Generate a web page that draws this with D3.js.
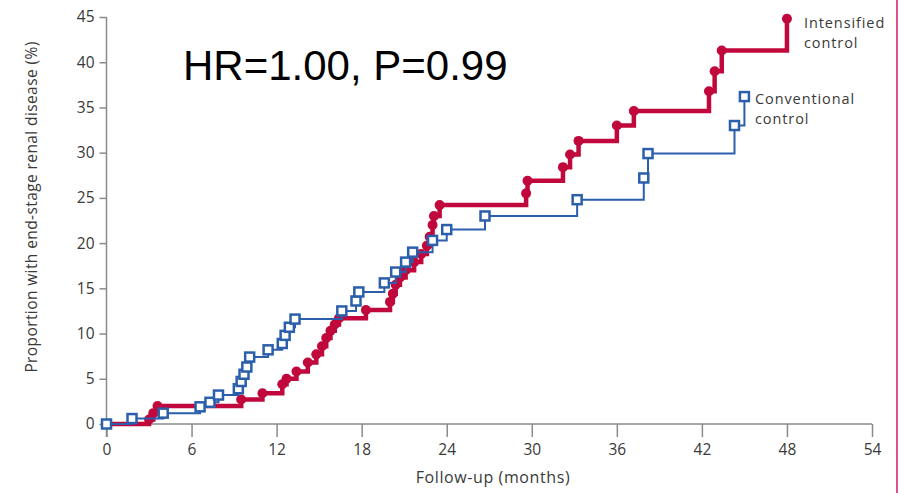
<!DOCTYPE html>
<html>
<head>
<meta charset="utf-8">
<script src="https://cdn.jsdelivr.net/npm/d3@7"></script>
<style>
  body { margin: 0; background: #fff; }
  svg { display: block; }
</style>
</head>
<body>
<div id="app"></div>
<script>
// data: [month, percent]
const intensifiedMonths = [0, 3.0, 3.3, 3.6, 9.5, 11.0, 12.4, 12.7, 13.4, 14.2, 14.8, 15.2, 15.5, 15.8, 16.1, 16.4, 18.3,
  20.0, 20.2, 20.4, 20.7, 21.1, 21.7, 22.2, 22.6, 22.8, 23.0, 23.1, 23.5, 29.6, 29.7, 32.2, 32.7, 33.3, 36.0, 37.2,
  42.5, 42.9, 43.4, 48.0];
const intensifiedValues = [0, 0.5, 1.2, 2.0, 2.7, 3.4, 4.4, 5.0, 5.8, 6.8, 7.7, 8.6, 9.5, 10.3, 11.0, 11.7, 12.6,
  13.5, 14.4, 15.4, 16.2, 17.0, 17.9, 18.8, 19.7, 20.7, 22.0, 23.0, 24.2, 25.5, 26.9, 28.4, 29.8, 31.3, 33.0, 34.6,
  36.8, 39.0, 41.3, 44.8];

const conventionalMonths = [0, 1.8, 4.0, 6.6, 7.3, 7.9, 9.3, 9.5, 9.7, 9.9, 10.1, 11.4, 12.4, 12.6, 12.9, 13.3, 16.6,
  17.6, 17.8, 19.6, 20.4, 21.1, 21.6, 23.0, 24.0, 26.7, 33.2, 37.9, 38.2, 44.3, 45.0];
const conventionalValues = [0, 0.6, 1.2, 1.9, 2.4, 3.2, 3.9, 4.7, 5.5, 6.3, 7.4, 8.2, 8.9, 9.8, 10.7, 11.6, 12.5,
  13.6, 14.6, 15.6, 16.8, 17.9, 19.0, 20.3, 21.5, 23.0, 24.8, 27.2, 29.9, 33.0, 36.2];

const xTicks = [0, 6, 12, 18, 24, 30, 36, 42, 48, 54];
const yTicks = [0, 5, 10, 15, 20, 25, 30, 35, 40, 45];

const width = 903;
const height = 493;
const red = "#c0083c";
const blue = "#2b5fab";
const axisGrey = "#8a8a8a";
const textGrey = "#3a3a3a";
const tickFont = "'Open Sans', 'Noto Sans', sans-serif";

const svg = d3.select("#app")
  .append("svg")
    .attr("width", width)
    .attr("height", height);

// scales
const x = d3.scaleLinear().domain([0, 54]).range([106.5, 872]);
const y = d3.scaleLinear().domain([0, 45]).range([424, 17]);

// x axis
const xAxis = svg.append("g")
  .attr("transform", "translate(0,424)")
  .call(d3.axisBottom(x).tickValues(xTicks).tickSize(13).tickPadding(7));
xAxis.select(".domain").remove();
xAxis.append("line")
  .attr("x1", x(0)).attr("x2", x(54))
  .attr("stroke", axisGrey).attr("stroke-width", 1.5);
xAxis.selectAll(".tick line").attr("stroke", axisGrey).attr("stroke-width", 1.5);
xAxis.selectAll(".tick text")
  .attr("fill", textGrey)
  .style("font-family", tickFont)
  .style("font-size", "15.5px");

// y axis
const yAxis = svg.append("g")
  .attr("transform", "translate(" + x(0) + ",0)")
  .call(d3.axisLeft(y).tickValues(yTicks).tickSize(7).tickPadding(5));
yAxis.select(".domain").remove();
yAxis.append("line")
  .attr("y1", y(45)).attr("y2", 437)
  .attr("stroke", axisGrey).attr("stroke-width", 1.5);
yAxis.selectAll(".tick line").attr("stroke", axisGrey).attr("stroke-width", 1.5);
yAxis.selectAll(".tick text")
  .attr("fill", textGrey)
  .style("font-family", tickFont)
  .style("font-size", "15.5px");

// axis titles
svg.append("text")
  .attr("x", 493).attr("y", 483)
  .attr("text-anchor", "middle")
  .attr("fill", textGrey)
  .style("font-family", tickFont)
  .style("font-size", "16px")
  .style("letter-spacing", "0.6px")
  .text("Follow-up (months)");

svg.append("text")
  .attr("transform", "translate(37,207) rotate(-90)")
  .attr("text-anchor", "middle")
  .attr("fill", textGrey)
  .style("font-family", tickFont)
  .style("font-size", "15.5px")
  .style("letter-spacing", "0.4px")
  .text("Proportion with end-stage renal disease (%)");

const intensified = intensifiedMonths.map((m, i) => ({ m: m, v: intensifiedValues[i] }));
const conventional = conventionalMonths.map((m, i) => ({ m: m, v: conventionalValues[i] }));

const step = d3.line()
  .x(d => x(d.m))
  .y(d => y(d.v))
  .curve(d3.curveStepAfter);

// intensified control (red, thick, dots)
svg.append("path")
  .datum(intensified)
  .attr("d", step)
  .attr("fill", "none")
  .attr("stroke", red)
  .attr("stroke-width", 4.5);

svg.append("g")
  .selectAll("circle")
  .data(intensified.slice(1))
  .enter().append("circle")
    .attr("cx", d => x(d.m))
    .attr("cy", d => y(d.v))
    .attr("r", 5)
    .attr("fill", red);

// conventional control (blue, thin, open squares)
svg.append("path")
  .datum(conventional)
  .attr("d", step)
  .attr("fill", "none")
  .attr("stroke", blue)
  .attr("stroke-width", 2);

svg.append("g")
  .selectAll("rect")
  .data(conventional)
  .enter().append("rect")
    .attr("x", d => x(d.m) - 4.5)
    .attr("y", d => y(d.v) - 4.5)
    .attr("width", 9)
    .attr("height", 9)
    .attr("fill", "#fff")
    .attr("stroke", blue)
    .attr("stroke-width", 2.5);

// legend labels
const legend = [
  { lines: ["Intensified", "control"], x: 804, y: 28 },
  { lines: ["Conventional", "control"], x: 755, y: 104 }
];
legend.forEach(l => {
  l.lines.forEach((t, i) => {
    svg.append("text")
      .attr("x", l.x).attr("y", l.y + i * 20)
      .attr("fill", textGrey)
      .style("font-family", tickFont)
      .style("font-size", "14.5px")
      .style("letter-spacing", "0.9px")
      .text(t);
  });
});

// annotation
svg.append("text")
  .attr("x", 183).attr("y", 80)
  .attr("fill", "#000")
  .style("font-family", "'Liberation Sans', Arial, sans-serif")
  .style("font-size", "42px")
  .text("HR=1.00, P=0.99");

// pink slide border on the right
svg.append("line")
  .attr("x1", 897).attr("x2", 897)
  .attr("y1", 0).attr("y2", height)
  .attr("stroke", "#e0508a")
  .attr("stroke-width", 2);
</script>
</body>
</html>
